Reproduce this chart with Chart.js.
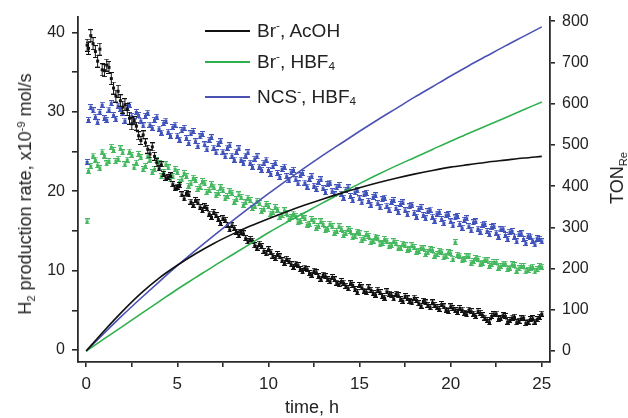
<!DOCTYPE html>
<html lang="en">
<head>
<meta charset="utf-8" />
<title>H2 production rate and TON vs time</title>
<style>
*{box-sizing:border-box;margin:0;padding:0}
body{background:#fff;font-family:"Liberation Sans",Arial,Helvetica,sans-serif;color:#222}
.wrap{position:relative;width:628px;height:418px}
canvas{position:absolute;left:0;top:0}
.lbl{position:absolute;white-space:nowrap;line-height:1}
sub,sup{font-size:.62em;line-height:0;position:relative;vertical-align:baseline}
sub{top:.35em}
sup{top:-.55em}
.ytitle{font-size:18px;transform:translate(-50%,-50%) rotate(-90deg)}
.xtitle{font-size:18px;transform:translate(-50%,-50%)}
.leg{position:absolute;left:205px;display:flex;align-items:center;font-size:19px;transform:translateY(-50%)}
.leg i{display:inline-block;width:45px;height:2px;margin-right:7px}
</style>
</head>
<body>
<div class="wrap">
    <canvas id="c" width="628" height="418"></canvas>

    <div class="lbl ytitle" style="left:25px;top:194px">H<sub>2</sub> production rate, x10<sup>-9</sup> mol/s</div>
    <div class="lbl ytitle" style="left:617px;top:178px">TON<sub>Re</sub></div>
    <div class="lbl xtitle" style="left:312px;top:407px">time, h</div>

    <div class="leg" style="top:31px"><i style="background:#111"></i>Br<sup>-</sup>, AcOH</div>
    <div class="leg" style="top:62px"><i style="background:#2fb04e"></i>Br<sup>-</sup>, HBF<sub>4</sub></div>
    <div class="leg" style="top:97px"><i style="background:#4a52b4"></i>NCS<sup>-</sup>, HBF<sub>4</sub></div>
</div>

<script src="https://cdn.jsdelivr.net/npm/chart.js@4.4.1"></script>
<script>
/* ─── rate measurements (left axis, x10^-9 mol/s) ─────────── */
// run A sampling times
const timeRateA = [
    0.05,0.25,0.5,0.75,1,1.25,1.5,1.75,2,2.25,2.5,2.75,3,3.25,3.5,3.75,4,4.25,4.5,4.75,
    5,5.25,5.5,5.75,6,6.25,6.5,6.75,7,7.25,7.5,7.75,8,8.25,8.5,8.75,9,9.25,9.5,9.75,
    10,10.25,10.5,10.75,11,11.25,11.5,11.75,12,12.25,12.5,12.75,13,13.25,13.5,13.75,14,14.25,14.5,14.75,
    15,15.25,15.5,15.75,16,16.25,16.5,16.75,17,17.25,17.5,17.75,18,18.25,18.5,18.75,19,19.25,19.5,19.75,
    20,20.25,20.5,20.75,21,21.25,21.5,21.75,22,22.25,22.5,22.75,23,23.25,23.5,23.75,24,24.25,24.5,24.75,25
];
// in-between sampling times
const timeRateB = [
    0.125,0.375,0.625,0.875,1.125,1.375,1.625,1.875,2.125,2.375,2.625,2.875,3.125,3.375,3.625,3.875,4.125,4.375,4.625,4.875,
    5.125,5.375,5.625,5.875,6.125,6.375,6.625,6.875,7.125,7.375,7.625,7.875,8.125,8.375,8.625,8.875,9.125,9.375,9.625,9.875,
    10.125,10.375,10.625,10.875,11.125,11.375,11.625,11.875,12.125,12.375,12.625,12.875,13.125,13.375,13.625,13.875,14.125,14.375,14.625,14.875,
    15.125,15.375,15.625,15.875,16.125,16.375,16.625,16.875,17.125,17.375,17.625,17.875,18.125,18.375,18.625,18.875,19.125,19.375,19.625,19.875,
    20.125,20.375,20.625,20.875,21.125,21.375,21.625,21.875,22.125,22.375,22.625,22.875,23.125,23.375,23.625,23.875,24.125,24.375,24.625,24.875
];

const rateBrAcOH_A = [
    38.4,39.6,37.6,37.9,35.2,35.6,33.0,32.6,30.6,30.3,28.5,28.2,26.4,26.1,24.7,24.4,22.9,22.2,21.8,20.9,
    20.6,19.6,19.8,18.7,18.9,18.0,18.1,17.2,17.4,16.5,16.6,15.8,15.7,14.9,14.9,14.1,14.0,13.2,13.4,12.5,
    12.7,11.9,12.1,11.3,11.5,10.8,10.9,10.2,10.4,9.7,10.0,9.3,9.5,8.9,9.2,8.5,8.7,8.1,8.4,7.7,
    8.2,7.5,7.9,7.2,7.6,6.8,7.4,6.9,7.1,6.4,6.8,6.2,6.6,5.9,6.2,5.7,6.0,5.4,5.8,5.1,
    5.5,5.0,5.3,4.7,5.1,4.6,4.9,4.4,3.8,4.3,4.6,4.0,4.3,3.8,4.2,3.7,4.1,3.6,4.0,3.9,4.6
];
const rateBrAcOH_B = [
    38.0,38.6,36.4,35.3,35.9,34.2,32.0,31.4,30.9,29.2,28.9,27.0,27.1,25.3,25.6,23.6,23.4,21.7,22.0,20.4,
    20.8,19.1,19.6,18.3,18.6,17.6,17.9,16.8,17.0,16.0,16.4,15.2,15.4,14.5,14.7,13.7,13.8,12.9,13.1,12.2,
    12.4,11.6,11.8,11.0,11.2,10.5,10.7,9.9,10.2,9.5,9.8,9.0,9.3,8.7,8.9,8.3,8.5,7.8,8.2,7.3,
    7.9,7.3,7.6,7.0,7.3,6.6,7.1,6.5,6.9,6.2,6.5,6.0,6.3,5.6,6.0,5.4,5.7,5.2,5.5,4.9,
    5.3,4.8,5.1,4.5,4.9,4.3,4.7,4.1,3.5,4.5,3.9,4.4,3.6,4.1,3.5,4.0,3.4,3.9,3.6,4.2
];
const rateBrHBF4_A = [
    16.2,23.2,24.0,22.9,24.5,23.8,25.2,24.1,24.9,24.0,24.6,23.6,24.3,23.2,24.0,22.8,23.5,22.4,23.0,21.9,
    22.4,21.5,21.9,21.0,21.4,20.6,21.0,20.2,20.6,19.8,20.2,19.4,19.8,19.0,19.3,18.6,18.9,18.2,18.5,17.8,
    18.1,17.4,17.7,17.0,17.3,16.7,16.9,16.3,16.6,15.9,16.2,15.6,15.9,15.3,15.6,15.0,15.3,14.7,15.0,14.4,
    14.7,14.1,14.4,13.8,14.1,13.5,13.8,13.2,13.5,12.9,13.2,12.7,13.0,12.5,12.8,12.3,12.6,12.1,12.4,11.9,
    12.2,13.6,11.9,11.5,11.8,11.2,11.5,11.0,11.3,10.8,11.1,10.6,10.9,10.4,10.7,10.3,10.6,10.1,10.5,10.2,10.5
];
const rateBrHBF4_B = [
    22.6,24.5,23.3,25.0,23.5,25.6,23.8,25.4,23.4,25.0,23.0,24.7,22.8,24.4,22.4,23.9,21.9,23.4,21.5,22.8,
    21.2,22.3,20.7,21.7,20.3,21.3,19.9,20.9,19.5,20.5,19.1,20.0,18.7,19.6,18.3,19.2,17.9,18.8,17.5,18.4,
    17.2,18.0,16.8,17.6,16.5,17.2,16.1,16.9,15.8,16.5,15.4,16.2,15.1,15.9,14.8,15.6,14.5,15.2,14.2,14.9,
    13.9,14.6,13.6,14.3,13.3,14.0,13.1,13.7,12.8,13.4,12.6,13.2,12.4,12.9,12.1,12.7,11.9,12.5,11.7,12.3,
    11.5,12.0,11.3,11.8,11.0,11.6,10.8,11.4,10.6,11.1,10.4,10.9,10.2,10.8,10.0,10.6,9.9,10.4,9.9,10.6
];
const rateNCSHBF4_A = [
    23.7,30.6,29.4,30.0,29.2,30.3,29.6,30.8,29.9,30.5,29.5,30.0,28.9,29.5,28.4,29.0,27.9,28.6,27.5,28.1,
    27.0,27.7,26.7,27.3,26.3,26.9,25.9,26.5,25.5,26.0,25.0,25.5,24.5,25.0,24.0,24.5,23.6,24.1,23.1,23.6,
    22.7,23.2,22.3,22.8,21.9,22.4,21.5,22.0,21.1,21.6,20.7,21.2,20.4,20.9,20.0,20.5,19.7,20.2,19.4,19.9,
    19.1,19.6,18.8,19.3,18.5,19.0,18.2,18.7,17.9,18.4,17.6,18.1,17.3,17.8,17.0,17.5,16.8,17.2,16.5,17.0,
    16.2,16.7,15.9,16.4,15.6,16.1,15.3,15.8,15.0,15.5,14.8,15.2,14.5,14.9,14.3,14.6,14.0,14.4,13.8,14.1,13.7
];
const rateNCSHBF4_B = [
    29.0,30.2,28.7,30.9,29.0,31.1,29.1,30.4,28.9,30.9,28.8,29.6,28.3,29.9,28.0,29.4,27.4,28.9,27.0,28.4,
    26.5,28.0,26.1,27.6,25.7,27.2,25.3,26.8,24.9,26.3,24.4,25.8,24.0,25.4,23.5,24.9,23.1,24.4,22.7,24.0,
    22.2,23.6,21.8,23.1,21.4,22.7,21.0,22.3,20.6,21.9,20.3,21.5,19.9,21.1,19.6,20.8,19.2,20.5,18.9,20.1,
    18.6,19.8,18.3,19.5,18.0,19.2,17.7,18.9,17.4,18.6,17.1,18.3,16.8,18.0,16.6,17.7,16.3,17.4,16.0,17.1,
    15.7,16.9,15.4,16.6,15.1,16.2,14.9,15.9,14.6,15.6,14.3,15.3,14.0,15.0,13.7,14.7,13.5,14.3,13.3,14.0
];

/* ─── turnover number curves (right axis) ─────────────────── */
const timeTON = [0,1,2,3,4,5,6,7,8,9,10,11,12,13,14,15,16,17,18,19,20,21,22,23,24,25];
const tonBrAcOH  = [0,50,97,140,177,208,236,261,283,303,321,338,354,369,383,396,408,419,429,438,446,452,458,463,468,472];
const tonBrHBF4  = [0,30,60,90,120,150,178,206,233,260,287,312,336,360,383,406,428,449,469,489,509,528,547,566,585,604];
const tonNCSHBF4 = [0,44,87,128,168,207,244,280,315,349,382,414,445,475,504,533,561,588,615,641,667,692,716,740,763,786];

/* tick positions */
const xTicks  = [0,2.5,5,7.5,10,12.5,15,17.5,20,22.5,25];
const yTicks  = [0,5,10,15,20,25,30,35,40];
const y2Ticks = [0,50,100,150,200,250,300,350,400,450,500,550,600,650,700,750,800];

const COL = {black:'#111111', green:'#2fb04e', blue:'#4a52b4',
             gPts:'#45b860', bPts:'#4053ba'};

/* small error-bar glyph used as point style */
function errGlyph(color, h){
    const c = document.createElement('canvas');
    c.width = 5; c.height = h;
    const g = c.getContext('2d');
    g.fillStyle = color;
    g.fillRect(2,0,1,h);
    g.fillRect(0,0,5,1);
    g.fillRect(0,h-1,5,1);
    g.fillRect(1,Math.floor(h/2)-1,3,3);
    return c;
}
const glyph = {
    blackBig: errGlyph(COL.black, 13),
    blackMid: errGlyph(COL.black, 9),
    black: errGlyph(COL.black, 6),
    green: errGlyph(COL.gPts, 6),
    blue:  errGlyph(COL.bPts, 6)
};

const pts = (xs, ys) => ys.map((v,i)=>({x:xs[i], y:v}));
const both = (a, b) => pts(timeRateA, a).concat(pts(timeRateB, b));

const fixTicks = list => scale => { scale.ticks = list.map(v=>({value:v})); };
const FONT = {family:'"Liberation Sans", Arial, sans-serif', size:16};

new Chart(document.getElementById('c'), {
    type:'scatter',
    data:{datasets:[
        {label:'Br-, AcOH rate', data:both(rateBrAcOH_A,rateBrAcOH_B), yAxisID:'y', order:2,
         pointStyle:c=>c.raw && c.raw.x < 2.6 ? glyph.blackBig : (c.raw && c.raw.x < 4 ? glyph.blackMid : glyph.black)},
        {label:'Br-, HBF4 rate', data:both(rateBrHBF4_A,rateBrHBF4_B), yAxisID:'y', order:3, pointStyle:glyph.green},
        {label:'NCS-, HBF4 rate', data:both(rateNCSHBF4_A,rateNCSHBF4_B), yAxisID:'y', order:4, pointStyle:glyph.blue},
        {label:'Br-, AcOH', type:'line', data:pts(timeTON,tonBrAcOH), yAxisID:'y2', order:0,
         borderColor:COL.black, borderWidth:1.6, pointRadius:0, cubicInterpolationMode:'monotone'},
        {label:'Br-, HBF4', type:'line', data:pts(timeTON,tonBrHBF4), yAxisID:'y2', order:0,
         borderColor:COL.green, borderWidth:1.6, pointRadius:0, cubicInterpolationMode:'monotone'},
        {label:'NCS-, HBF4', type:'line', data:pts(timeTON,tonNCSHBF4), yAxisID:'y2', order:0,
         borderColor:COL.blue, borderWidth:1.6, pointRadius:0, cubicInterpolationMode:'monotone'}
    ]},
    options:{
        responsive:false,
        animation:false,
        layout:{padding:{top:14,left:0,right:0,bottom:0}},
        plugins:{legend:{display:false}, tooltip:{enabled:false}},
        scales:{
            x:{
                type:'linear', min:-0.45, max:25.45,
                afterBuildTicks:fixTicks(xTicks),
                afterFit:s=>{s.height = 56;},
                border:{display:true,color:'#2a2a2a',width:1.8},
                grid:{drawOnChartArea:false, drawTicks:true, tickLength:5, color:'#2a2a2a', lineWidth:1.6},
                ticks:{autoSkip:false, maxRotation:0, padding:7, color:'#222', font:{...FONT,size:17},
                       callback:v=> v%5===0 ? v : ''}
            },
            y:{
                position:'left', min:-1.5, max:42,
                afterBuildTicks:fixTicks(yTicks),
                afterFit:s=>{s.width = 78;},
                border:{display:true,color:'#2a2a2a',width:1.8},
                grid:{drawOnChartArea:false, drawTicks:true, tickLength:6, color:'#2a2a2a', lineWidth:1.6},
                ticks:{padding:7, color:'#222', font:FONT, callback:v=> v%10===0 ? v : ''}
            },
            y2:{
                position:'right', min:-26.5, max:811,
                afterBuildTicks:fixTicks(y2Ticks),
                afterFit:s=>{s.width = 78;},
                border:{display:true,color:'#2a2a2a',width:1.8},
                grid:{drawOnChartArea:false, drawTicks:true, tickLength:5, color:'#2a2a2a', lineWidth:1.6},
                ticks:{padding:7, color:'#222', font:FONT, callback:v=> v%100===0 ? v : ''}
            }
        }
    }
});
</script>
</body>
</html>
